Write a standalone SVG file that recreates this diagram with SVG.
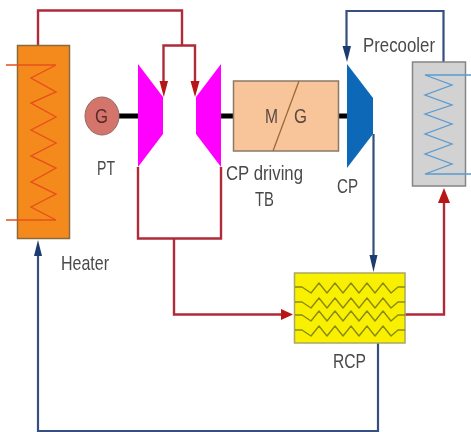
<svg xmlns="http://www.w3.org/2000/svg" width="471" height="432" viewBox="0 0 471 432">
<style>
.t{font-family:"Liberation Sans",Arial,sans-serif;font-size:21px;fill:#4a4a4a}
.r{fill:none;stroke:#b02a38;stroke-width:2.400}
.b{fill:none;stroke:#35507f;stroke-width:2.200}
.s{stroke:#000;stroke-width:5;fill:none}
.w{fill:none;stroke:#8a8a10;stroke-width:1.400;stroke-linejoin:round}
</style>
<defs>
<filter id="soft" x="-2%" y="-2%" width="104%" height="104%"><feGaussianBlur stdDeviation="0.5"/></filter>
</defs>
<rect width="471" height="432" fill="#fff"/>
<g filter="url(#soft)">
<g id="connectors">
<path class="r" d="M38 45V10.500H182V45M163.500 85V45.500H195V85"/>
<polygon points="159.500,81 168,81 163.800,97" fill="#b81414"/>
<polygon points="190.500,81 199.500,81 195,97" fill="#b81414"/>
<path class="r" d="M138 167V238.500H221V167M174 238.500V314.500H284"/>
<polygon points="281,309 281,320 293,314.500" fill="#b81414"/>
<path class="r" d="M405 314.500H444V200"/>
<polygon points="444,188 438,203 450,203" fill="#b81414"/>
<path class="b" d="M443.500 62V11H346.500V50"/>
<polygon points="342.500,46 351,46 347,62" fill="#1f3a70"/>
<path class="b" d="M373.500 134V262"/>
<polygon points="369.500,255 377.500,255 373.500,272" fill="#1f3a70"/>
<path class="b" d="M378 343V431H38V250"/>
<polygon points="38,240 34,256 42,256" fill="#1f3a70"/>
<path class="s" d="M119 116H138M221 116H233M338 116H347"/>
</g>
<g id="heater">
<rect x="17.500" y="45.500" width="52" height="193" fill="#f58a1f" stroke="#8a6a3a" stroke-width="1.500"/>
<path d="M6 65H56L31 78L56 92L31 103L56 117L31 130L56 143L31 156L56 168L31 182L56 194L31 207L56 220H6" fill="none" stroke="#e8501a" stroke-width="1.400"/>
<text class="t" x="61" y="270" textLength="48" lengthAdjust="spacingAndGlyphs">Heater</text>
</g>
<g id="generator">
<ellipse cx="102" cy="116" rx="17" ry="19" fill="#d4756c" stroke="#8f6a66" stroke-width="1"/>
<text class="t" x="95" y="122.500" textLength="13" lengthAdjust="spacingAndGlyphs" style="fill:#5a2a2a">G</text>
<text class="t" x="97" y="175" textLength="18" lengthAdjust="spacingAndGlyphs">PT</text>
</g>
<g id="pt">
<polygon points="138,64 163,97 163,134 138,167" fill="#ff00ff"/>
<polygon points="221,64 196,97 196,134 221,167" fill="#ff00ff"/>
</g>
<g id="mg">
<rect x="233.500" y="81" width="105" height="70" fill="#f8c49a" stroke="#8a7a66" stroke-width="1.500"/>
<path d="M299 81L273 151" stroke="#9a6a3a" stroke-width="1.300" fill="none"/>
<text class="t" x="265" y="122.500" textLength="13" lengthAdjust="spacingAndGlyphs" style="fill:#5a4a40">M</text>
<text class="t" x="294" y="122.500" textLength="13" lengthAdjust="spacingAndGlyphs" style="fill:#5a4a40">G</text>
<text class="t" x="226" y="180" textLength="77" lengthAdjust="spacingAndGlyphs">CP driving</text>
<text class="t" x="255" y="206" textLength="19" lengthAdjust="spacingAndGlyphs">TB</text>
</g>
<g id="cp">
<polygon points="347,64 373,98 373,134 347,168" fill="#0b68b8"/>
<text class="t" x="337" y="193" textLength="21" lengthAdjust="spacingAndGlyphs">CP</text>
</g>
<g id="precooler">
<rect x="412.500" y="62" width="53" height="124" fill="#d2d2d2" stroke="#858585" stroke-width="1.500"/>
<path d="M471 75H425L452 85L425 95L452 105L425 114L452 124L425 134L452 144L425 154L452 164L425 174H471" fill="none" stroke="#5a9ad0" stroke-width="1.300"/>
<text class="t" x="363" y="52" textLength="72" lengthAdjust="spacingAndGlyphs">Precooler</text>
</g>
<g id="rcp">
<rect x="294.500" y="273" width="110.500" height="70" fill="#f8f000" stroke="#a8a860" stroke-width="1.500"/>
<path class="w" d="M295 287H302L311 293L319 283L327 293L335 283L343 293L351 283L359 293L367 283L375 293L383 283L391 293L398 287H405"/>
<path class="w" d="M295 302H302L311 308L319 298L327 308L335 298L343 308L351 298L359 308L367 298L375 308L383 298L391 308L398 302H405"/>
<path class="w" d="M295 315H302L311 321L319 311L327 321L335 311L343 321L351 311L359 321L367 311L375 321L383 311L391 321L398 315H405"/>
<path class="w" d="M295 330H302L311 336L319 326L327 336L335 326L343 336L351 326L359 336L367 326L375 336L383 326L391 336L398 330H405"/>
<text class="t" x="333" y="368" textLength="33" lengthAdjust="spacingAndGlyphs">RCP</text>
</g>
</g>
</svg>
